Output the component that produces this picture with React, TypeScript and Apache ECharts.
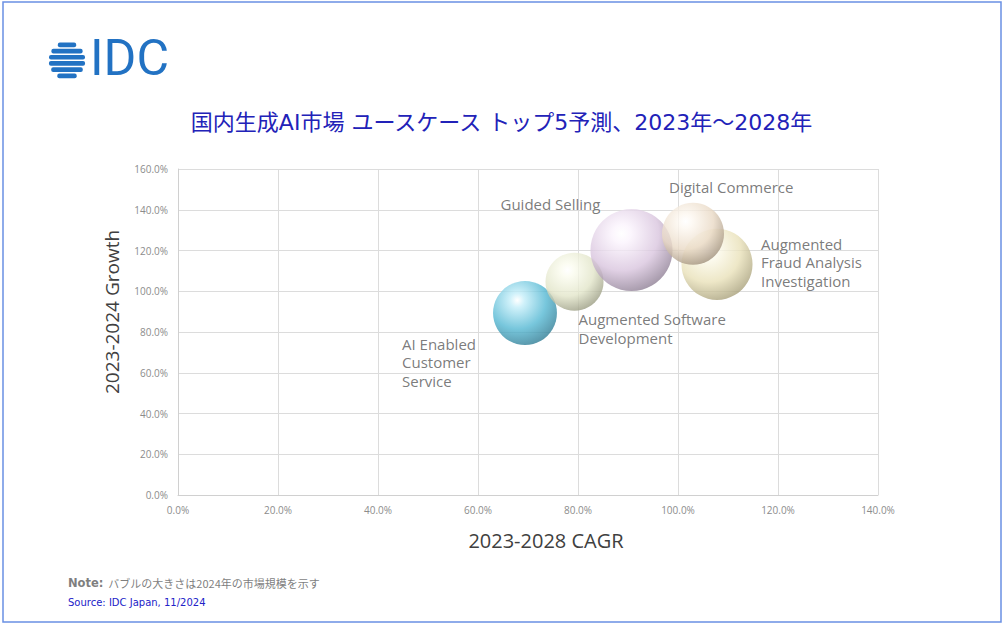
import React, { useEffect, useRef } from "react";
import * as echarts from "echarts";

const useCases = [
  "AI Enabled Customer Service",
  "Augmented Software Development",
  "Guided Selling",
  "Augmented Fraud Analysis Investigation",
  "Digital Commerce",
];
const labelTexts = [
  "AI Enabled\nCustomer\nService",
  "Augmented Software\nDevelopment",
  "Guided Selling",
  "Augmented\nFraud Analysis\nInvestigation",
  "Digital Commerce",
];
const cagr2023_2028 = [69.4, 79.3, 90.7, 107.8, 103.0];
const growth2023_2024 = [89.3, 104.7, 120.2, 113.2, 128.2];
const marketSize2024 = [102, 84, 168, 126, 96];
const xTicks = [0, 20, 40, 60, 80, 100, 120, 140];
const yTicks = [0, 20, 40, 60, 80, 100, 120, 140, 160];
const xAxisTitle = "2023-2028 CAGR";
const yAxisTitle = "2023-2024 Growth";

const bubbleColors = [
  { light: "#c4eef9", base: "#55b8d3", dark: "#2c7890" },
  { light: "#fbfcef", base: "#e2e5c9", dark: "#96987e" },
  { light: "#fbf4fd", base: "#d9c5de", dark: "#8a7b90" },
  { light: "#fdfbee", base: "#e9e1b9", dark: "#a49c76" },
  { light: "#fdf8f1", base: "#e9d9c5", dark: "#9c8c78" },
];
const labelLayout = [
  { align: "left", offset: [-123, 49] },
  { align: "left", offset: [4, 47] },
  { align: "left", offset: [-131, -46] },
  { align: "left", offset: [44, -2] },
  { align: "left", offset: [-24, -47] },
];

export default function App() {
  const ref = useRef<HTMLDivElement>(null);
  useEffect(() => {
    if (!ref.current) return;
    const chart = echarts.init(ref.current, null, { renderer: "svg" });

    const data = useCases.map((name, i) => ({
      name,
      value: [cagr2023_2028[i], growth2023_2024[i], marketSize2024[i]],
      itemStyle: {
        color: {
          type: "radial",
          x: 0.38,
          y: 0.3,
          r: 0.75,
          colorStops: [
            { offset: 0, color: "#ffffff" },
            { offset: 0.15, color: bubbleColors[i].light },
            { offset: 0.6, color: bubbleColors[i].base },
            { offset: 1, color: bubbleColors[i].dark },
          ],
        },
      },
      label: {
        show: true,
        position: "inside",
        formatter: labelTexts[i],
        align: labelLayout[i].align,
        verticalAlign: "middle",
        offset: labelLayout[i].offset,
      },
    }));

    // logo stripes
    const cx = 67, cy = 60.5, R = 18;
    const stripeH = 4.7, gap = 1.5;
    const stripes: any[] = [];
    for (let k = 0; k < 6; k++) {
      const top = cy - R + k * (stripeH + gap);
      const mid = top + stripeH / 2;
      const dy = Math.abs(mid - cy);
      const half = Math.sqrt(Math.max(R * R - dy * dy, 0)) + 0.3;
      stripes.push({
        type: "rect",
        shape: { x: cx - half, y: top, width: half * 2, height: stripeH, r: 2 },
        style: { fill: "#2272c3" },
      });
    }

    chart.setOption({
      animation: false,
      backgroundColor: "#ffffff",
      textStyle: { fontFamily: '"Open Sans", sans-serif' },
      grid: { left: 178, right: 127, top: 169, bottom: 130 },
      xAxis: {
        type: "value",
        min: xTicks[0],
        max: xTicks[xTicks.length - 1],
        interval: 20,
        axisLine: { show: true, lineStyle: { color: "#d0d0d0" } },
        axisTick: { show: false },
        axisLabel: {
          fontSize: 10,
          color: "#8c8c8c",
          margin: 10,
          formatter: (v: number) => v.toFixed(1) + "%",
        },
        splitLine: { show: true, lineStyle: { color: "#dcdcdc" } },
      },
      yAxis: {
        type: "value",
        min: yTicks[0],
        max: yTicks[yTicks.length - 1],
        interval: 20,
        axisLine: { show: true, lineStyle: { color: "#d0d0d0" } },
        axisTick: { show: false },
        axisLabel: {
          fontSize: 10,
          color: "#8c8c8c",
          margin: 10,
          formatter: (v: number) => v.toFixed(1) + "%",
        },
        splitLine: { show: true, lineStyle: { color: "#dcdcdc" } },
      },
      series: [
        {
          type: "scatter",
          data,
          symbol: "circle",
          symbolSize: (val: number[]) => Math.sqrt(val[2]) * 6.33,
          label: {
            fontSize: 15,
            lineHeight: 18.5,
            color: "#595959",
            fontFamily: '"Open Sans", sans-serif',
          },
          emphasis: { disabled: true },
        },
      ],
      graphic: [
        {
          type: "rect",
          shape: { x: 3, y: 2, width: 998, height: 620 },
          style: { fill: "none", stroke: "#6a90e4", lineWidth: 1.5 },
          silent: true,
        },
        { type: "group", children: stripes },
        {
          type: "text",
          left: 90,
          top: 33,
          style: {
            text: "IDC",
            fontSize: 50,
            fontWeight: 400,
            fontFamily: "Roboto, sans-serif",
            fill: "#2272c3",
          },
        },
        {
          type: "text",
          x: 501.5,
          y: 122,
          style: {
            text: "国内生成AI市場 ユースケース トップ5予測、2023年～2028年",
            fontSize: 22,
            fontFamily: '"DejaVu Sans", "Noto Sans CJK JP", sans-serif',
            fill: "#2222b8",
            align: "center",
            verticalAlign: "middle",
          },
        },
        {
          type: "text",
          x: 546,
          y: 540,
          style: {
            text: xAxisTitle,
            fontSize: 20,
            fontFamily: '"Open Sans", sans-serif',
            fill: "#404040",
            align: "center",
            verticalAlign: "middle",
          },
        },
        {
          type: "text",
          x: 112,
          y: 312,
          rotation: Math.PI / 2,
          style: {
            text: yAxisTitle,
            fontSize: 19,
            fontFamily: '"Open Sans", sans-serif',
            fill: "#404040",
            align: "center",
            verticalAlign: "middle",
          },
        },
        {
          type: "text",
          x: 68,
          y: 583,
          style: {
            text: "{b|Note:}  バブルの大きさは2024年の市場規模を示す",
            fontSize: 11,
            fontFamily: '"Noto Sans CJK JP", sans-serif',
            fill: "#7f7f7f",
            verticalAlign: "middle",
            rich: {
              b: {
                fontSize: 11.5,
                fontWeight: "bold",
                fontFamily: '"DejaVu Sans", sans-serif',
                fill: "#7f7f7f",
                color: "#7f7f7f",
              },
            },
          },
        },
        {
          type: "text",
          x: 68,
          y: 602,
          style: {
            text: "Source: IDC Japan, 11/2024",
            fontSize: 10,
            fontFamily: '"DejaVu Sans", sans-serif',
            fill: "#2222c8",
            verticalAlign: "middle",
          },
        },
      ],
    });
    return () => chart.dispose();
  }, []);
  return (
    <div
      ref={ref}
      style={{ position: "absolute", left: 0, top: 0, width: 1005, height: 625 }}
    />
  );
}
